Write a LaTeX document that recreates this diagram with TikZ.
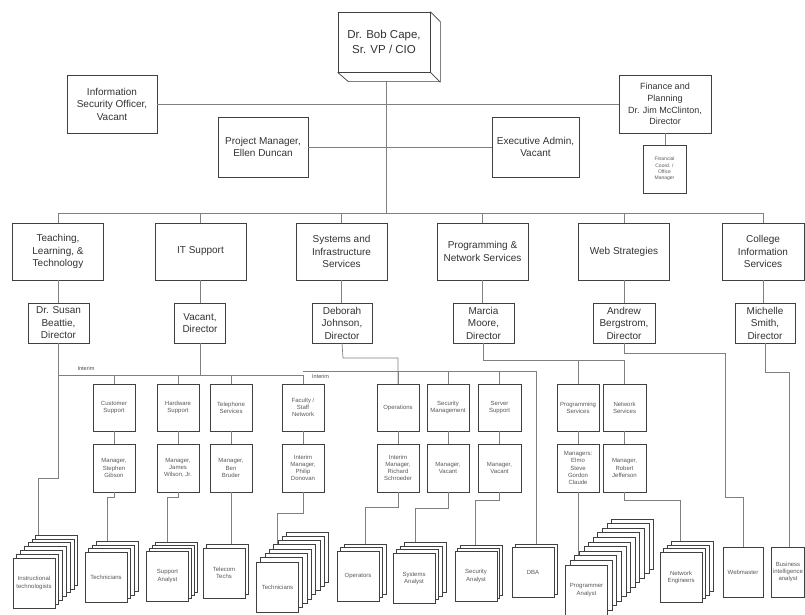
\documentclass[tikz,border=0pt]{standalone}
\usepackage{fontspec}
\setmainfont{Liberation Sans}
\tikzset{
  orgbox/.style={draw=black!75, fill=white, line width=0.7pt, align=center, inner sep=1pt,
    text=black!80, font=\fontsize{10}{12.5}\selectfont},
  deptbox/.style={orgbox, minimum width=91pt, minimum height=57pt},
  dirbox/.style={orgbox, minimum width=61pt, minimum height=40pt},
  unitbox/.style={orgbox, minimum width=42pt, minimum height=47pt, text=black!65,
    font=\fontsize{6}{7.2}\selectfont},
  staffbox/.style={unitbox, minimum height=50pt},
  orgline/.style={draw=black!50, line width=0.7pt},
  notelabel/.style={inner sep=0pt, text=black!70, font=\fontsize{5.5}{6.5}\selectfont},
}
\newcommand{\staffstack}[6]{%
  \foreach \k in {#4,...,1} {
    \node[staffbox] (#1-\k) at ({#2+\k*#5},{#3-\k*#5}) {};
  }
  \node[staffbox] (#1) at (#2,#3) {#6};
}
\begin{document}
\begin{tikzpicture}[x=1pt, y=-1pt]
  \useasboundingbox (0,0) rectangle (805,615);
  \fill[white] (0,0) rectangle (805,615);

  \node[orgbox, minimum width=92pt, minimum height=60pt, font=\fontsize{11.5}{14.5}\selectfont] (cio) at (384,42) {Dr. Bob Cape, \\ Sr. VP / CIO};
  \draw[draw=black!75, line width=0.7pt] (cio.north east) -- ++(10,10) -- ++(0,60) -- ++(-92,0) -- (cio.south west);
  \draw[draw=black!75, line width=0.7pt] (cio.south east) -- ++(10,10);
  \coordinate (ciofoot) at (386,82);
  \coordinate (deptbus) at (386,213);

  \node[orgbox, minimum width=90pt, minimum height=58pt] (iso) at (112,104) {Information \\ Security Officer, \\ Vacant};
  \node[orgbox, minimum width=92pt, minimum height=58pt, font=\fontsize{9}{11.7}\selectfont] (finplan) at (665,104) {Finance and \\ Planning \\ Dr. Jim McClinton, \\ Director};
  \node[orgbox, minimum width=90pt, minimum height=60pt] (projmgr) at (263,147) {Project Manager, \\ Ellen Duncan};
  \node[orgbox, minimum width=87pt, minimum height=60pt] (execadm) at (535.5,147) {Executive Admin, \\ Vacant};
  \node[unitbox, minimum width=43pt, minimum height=48pt, font=\fontsize{5}{6.2}\selectfont] (fincoord) at (664.5,169) {Financial \\ Coord. / \\ Office \\ Manager};

  \draw[orgline] (ciofoot) -- (deptbus);
  \draw[orgline] (iso.east) -- (finplan.west);
  \draw[orgline] (projmgr.east) -- (execadm.west);
  \draw[orgline] (finplan.south) -- (finplan.south |- fincoord.north);

  \node[deptbox] (teach) at (58,251.5) {Teaching, \\ Learning, \& \\ Technology};
  \node[deptbox] (itsup) at (200.5,251.5) {IT Support};
  \node[deptbox] (sysinf) at (341.5,251.5) {Systems and \\ Infrastructure \\ Services};
  \node[deptbox] (prognet) at (482.5,251.5) {Programming \& \\ Network Services};
  \node[deptbox] (webstr) at (624,251.5) {Web Strategies};
  \node[deptbox, minimum width=82pt] (colinf) at (763,251.5) {College \\ Information \\ Services};
  \foreach \d in {teach,itsup,sysinf,prognet,webstr,colinf}
    \draw[orgline] (deptbus) -| (\d.north);

  \node[dirbox] (susan) at (58.5,323) {Dr. Susan \\ Beattie, \\ Director};
  \node[dirbox, minimum width=51pt] (itdir) at (200,323) {Vacant, \\ Director};
  \node[dirbox, minimum width=60pt] (deborah) at (342,323) {Deborah \\ Johnson, \\ Director};
  \node[dirbox] (marcia) at (483.5,323) {Marcia \\ Moore, \\ Director};
  \node[dirbox, minimum width=62pt] (andrew) at (624,323) {Andrew \\ Bergstrom, \\ Director};
  \node[dirbox, minimum width=60pt] (michelle) at (765,323) {Michelle \\ Smith, \\ Director};
  \foreach \a/\b in {teach/susan, itsup/itdir, sysinf/deborah, prognet/marcia, webstr/andrew, colinf/michelle}
    \draw[orgline] (\a.south) -- (\a.south |- \b.north);

  \node[unitbox] (custsup) at (114,407.5) {Customer \\ Support};
  \node[unitbox] (hwsup) at (178,407.5) {Hardware \\ Support};
  \node[unitbox] (telsvc) at (231,407.5) {Telephone \\ Services};
  \node[unitbox] (fsnet) at (303,407.5) {Faculty / \\ Staff \\ Network};
  \node[unitbox] (opsvc) at (398,407.5) {Operations};
  \node[unitbox] (secmgmt) at (448,407.5) {Security \\ Management};
  \node[unitbox, minimum width=43pt] (srvsup) at (499.5,407.5) {Server \\ Support};
  \node[unitbox] (progsvc) at (578,407.5) {Programming \\ Services};
  \node[unitbox, minimum width=43pt] (netsvc) at (624.5,407.5) {Network \\ Services};

  \node[unitbox, minimum height=48pt] (custmgr) at (114,468) {Manager, \\ Stephen \\ Gibson};
  \node[unitbox, minimum height=48pt] (hwmgr) at (178,468) {Manager, \\ James \\ Wilson, Jr.};
  \node[unitbox, minimum height=48pt] (telmgr) at (231,468) {Manager, \\ Ben \\ Bruder};
  \node[unitbox, minimum height=48pt] (fsmgr) at (303,468) {Interim \\ Manager, \\ Philip \\ Donovan};
  \node[unitbox, minimum height=48pt] (opsmgr) at (398,468) {Interim \\ Manager, \\ Richard \\ Schroeder};
  \node[unitbox, minimum height=48pt] (secmgr) at (448,468) {Manager, \\ Vacant};
  \node[unitbox, minimum height=48pt, minimum width=43pt] (srvmgr) at (499.5,468) {Manager, \\ Vacant};
  \node[unitbox, minimum height=48pt] (progmgr) at (578,468) {Managers: \\ Elmo \\ Steve \\ Gordon \\ Claude};
  \node[unitbox, minimum height=48pt, minimum width=43pt] (netmgr) at (624.5,468) {Manager, \\ Robert \\ Jefferson};
  \foreach \a/\b in {custsup/custmgr, hwsup/hwmgr, telsvc/telmgr, fsnet/fsmgr, opsvc/opsmgr,
                     secmgmt/secmgr, srvsup/srvmgr, progsvc/progmgr, netsvc/netmgr}
    \draw[orgline] (\a.south) -- (\a.south |- \b.north);

  \coordinate (itbus) at (200,375);
  \draw[orgline] (itdir.south) -- (itbus);
  \foreach \u in {custsup,hwsup,telsvc,fsnet}
    \draw[orgline] (itbus) -| (\u.north);
  \draw[orgline] (itbus) -- (itbus -| susan.south);
  \node[notelabel] (interimit) at (86,369) {Interim};

  \coordinate (debj) at (343,358);
  \coordinate (opsbus) at (303,371);
  \draw[orgline] (deborah.south) -- (debj) -| (opsvc.north);
  \foreach \u in {opsvc,secmgmt,srvsup}
    \draw[orgline] (opsbus) -| (\u.north);
  \node[notelabel, anchor=west] (interimsys) at (312,377) {Interim};

  \coordinate (marj) at (483.5,360);
  \draw[orgline] (marcia.south) -- (marj) -| (progsvc.north);
  \draw[orgline] (marj) -| (netsvc.north);

  \staffstack{instr}{34}{583}{6}{3.8}{Instructional \\ technologists}
  \staffstack{custtech}{106}{577.5}{3}{3.7}{Technicians}
  \staffstack{suppan}{167.5}{576}{3}{3}{Support \\ Analyst}
  \staffstack{telecom}{224}{573}{1}{3.5}{Telecom \\ Techs}
  \staffstack{fstech}{277.5}{587}{7}{4.3}{Technicians}
  \staffstack{oper}{358}{576}{2}{3.5}{Operators}
  \staffstack{sysan}{414}{578.5}{3}{3.7}{Systems \\ Analyst}
  \staffstack{secan}{476}{576}{2}{2.7}{Security \\ Analyst}
  \staffstack{dba}{533}{572.5}{1}{3}{DBA}
  \staffstack{progan}{586.5}{590}{10}{4.6}{Programmer \\ Analyst}
  \staffstack{neteng}{681}{577.5}{3}{3.7}{Network \\ Engineers}
  \node[staffbox, minimum width=40pt] (webmaster) at (743,572) {Webmaster};
  \node[staffbox, minimum width=33pt] (bianalyst) at (788,572) {Business \\ intelligence \\ analyst};

  \draw[orgline] (opsbus) -| (dba-1.north);

  \coordinate (susanj) at (38,478);
  \draw[orgline] (susan.south) |- (susanj) -- (susanj |- instr-6.north);
  \coordinate (custj) at (107,497);
  \draw[orgline] (custmgr.south) |- (custj) -- (custj |- custtech-3.north);
  \coordinate (hwj) at (167,497);
  \draw[orgline] (hwmgr.south) |- (hwj) -- (hwj |- suppan-3.north);
  \draw[orgline] (telmgr.south) -- (telmgr.south |- telecom-1.north);
  \coordinate (fsj) at (277,513);
  \draw[orgline] (fsmgr.south) |- (fsj) -- (fsj |- fstech-4.north);
  \coordinate (opsj) at (365,507);
  \draw[orgline] (opsmgr.south) |- (opsj) -- (opsj |- oper-2.north);
  \coordinate (secj) at (415,508);
  \draw[orgline] (secmgr.south) |- (secj) -- (secj |- sysan-3.north);
  \coordinate (srvj) at (475,500);
  \draw[orgline] (srvmgr.south) |- (srvj) -- (srvj |- secan-2.north);
  \draw[orgline] (progmgr.south) -- (progmgr.south |- progan-2.north);
  \coordinate (netj) at (680,500);
  \draw[orgline] (netmgr.south) |- (netj) -- (netj |- neteng-3.north);

  \coordinate (andj) at (725,353);
  \coordinate (andj2) at (725,497);
  \draw[orgline] (andrew.south) |- (andj) -- (andj2) -| (webmaster.north);
  \coordinate (michj) at (789,372);
  \draw[orgline] (michelle.south) |- (michj) -- (michj |- bianalyst.north);
\end{tikzpicture}
\end{document}
